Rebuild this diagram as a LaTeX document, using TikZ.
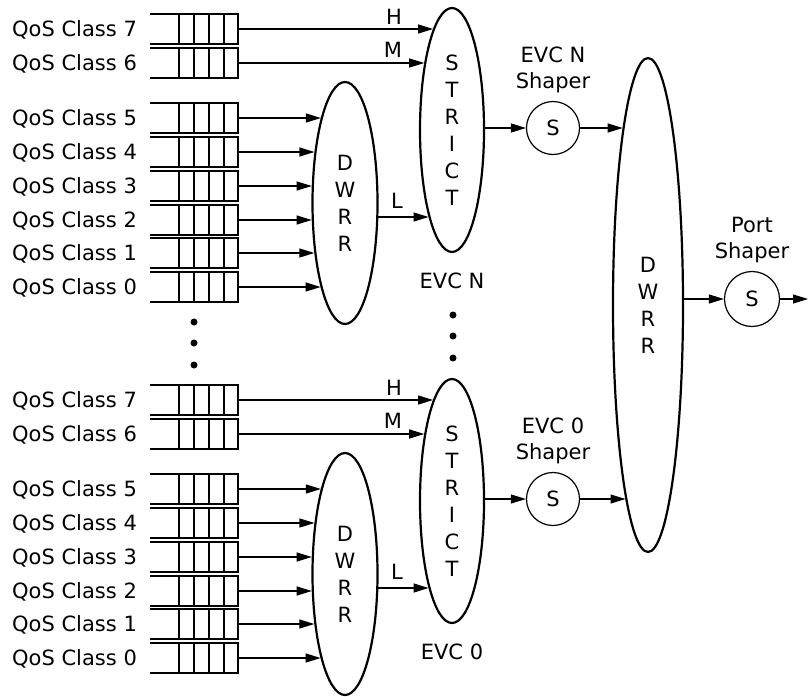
\documentclass[tikz,border=0pt]{standalone}
\usepackage{fontspec}
\setmainfont{DejaVu Sans}
\usetikzlibrary{arrows.meta,shapes.geometric,calc}

\tikzset{
  arr/.style={line width=1.1pt, -{Triangle[length=15pt,width=9pt]}},
  qline/.style={line width=1.1pt},
  ell/.style={ellipse, draw, line width=2.2pt, inner sep=0pt, align=center, font=\fontsize{21}{27}\selectfont},
  txt/.style={font=\fontsize{21}{26}\selectfont, inner sep=0pt},
  shaper/.style={circle, draw, line width=1.2pt, minimum size=53pt, inner sep=0pt, font=\fontsize{21}{26}\selectfont},
  queue/.style={rectangle, minimum width=88pt, minimum height=30pt, inner sep=0pt, outer sep=0pt},
  dot/.style={circle, fill, minimum size=7pt, inner sep=0pt},
}

\newcommand\qrow[3]{%
  \node[queue] (#1) at (194,#2) {};
  \draw[qline] (#1.north west) -- (#1.north east) -- (#1.south east) -- (#1.south west);
  \foreach \d in {14,29,44,59}{\draw[qline] ([xshift=-\d pt]#1.north east) -- ([xshift=-\d pt]#1.south east);}
  \node[txt, anchor=base west] (#1l) at (12,#2+7.5) {QoS Class #3};
}
\newcommand\toell[2]{%
  \draw[arr] let \p0=(#2.center), \p1=(#2.east), \p3=(#2.north), \p2=(#1),
    \n1={(\y2-\y0)/(\y3-\y0)} in (\p2) -- ({\x0-(\x1-\x0)*sqrt(1-\n1*\n1)},\y2);}
\newcommand\elltoell[3]{%
  \draw[arr] let \p0=(#1.center), \p1=(#1.east), \p3=(#1.north),
    \p4=(#2.center), \p5=(#2.east), \p6=(#2.north), \p2=(#3),
    \n1={(\y2-\y0)/(\y3-\y0)}, \n2={(\y2-\y4)/(\y6-\y4)} in
    ({\x0+(\x1-\x0)*sqrt(1-\n1*\n1)},\y2) -- ({\x4-(\x5-\x4)*sqrt(1-\n2*\n2)},\y2);}

\begin{document}
\begin{tikzpicture}[x=1pt,y=-1pt]
\useasboundingbox (0,0) rectangle (808,696);

% queues
\foreach \c/\y in {7/29,6/63,5/118,4/152,3/186,2/220,1/253,0/287}{\qrow{qN\c}{\y}{\c}}
\foreach \c/\y in {7/400,6/434,5/489,4/523,3/557,2/591,1/624,0/658}{\qrow{qZ\c}{\y}{\c}}

% schedulers
\node[ell, minimum width=65pt, minimum height=242pt] (dwN) at (345,203) {D\\W\\R\\R};
\node[ell, minimum width=64pt, minimum height=244pt] (stN) at (452,130) {S\\T\\R\\I\\C\\T};
\node[ell, minimum width=65pt, minimum height=242pt] (dw0) at (345,574) {D\\W\\R\\R};
\node[ell, minimum width=64pt, minimum height=244pt] (st0) at (452,501) {S\\T\\R\\I\\C\\T};
\node[ell, minimum width=70pt, minimum height=494pt] (big) at (648,305) {D\\W\\R\\R};

% shapers
\node[shaper] (shN) at (553,128) {S};
\node[shaper] (sh0) at (553,499) {S};
\node[shaper, minimum size=55pt] (port) at (752,299) {S};

% labels
\node[txt, align=center, anchor=north] (shNl) at (553,47) {EVC N\\Shaper};
\node[txt, align=center, anchor=north] (sh0l) at (553,418) {EVC 0\\Shaper};
\node[txt, align=center, anchor=north] (portl) at (752,217) {Port\\Shaper};
\node[txt, anchor=base] (evcN) at (452,288) {EVC N};
\node[txt, anchor=base] (evc0) at (452,659) {EVC 0};
\node[txt, anchor=base] (hN) at (394,24) {H};
\node[txt, anchor=base] (mN) at (393,57) {M};
\node[txt, anchor=base] (lN) at (397,208) {L};
\node[txt, anchor=base] (h0) at (394,395) {H};
\node[txt, anchor=base] (m0) at (393,428) {M};
\node[txt, anchor=base] (l0) at (397,579) {L};

% dots
\node[dot] (da1) at (194,322) {};
\node[dot] (da2) at (194,343) {};
\node[dot] (da3) at (194,365) {};
\node[dot] (db1) at (453,315) {};
\node[dot] (db2) at (453,336) {};
\node[dot] (db3) at (453,358) {};

% arrows EVC N
\toell{qN7.east}{stN}
\toell{qN6.east}{stN}
\foreach \c in {5,4,3,2,1,0}{\toell{qN\c.east}{dwN}}
\coordinate (yLN) at (0,217);
\elltoell{dwN}{stN}{yLN}
\draw[arr] (shN.west -| stN.east) -- (shN.west);
\toell{shN.east}{big}

% arrows EVC 0
\toell{qZ7.east}{st0}
\toell{qZ6.east}{st0}
\foreach \c in {5,4,3,2,1,0}{\toell{qZ\c.east}{dw0}}
\coordinate (yL0) at (0,588);
\elltoell{dw0}{st0}{yL0}
\draw[arr] (sh0.west -| st0.east) -- (sh0.west);
\toell{sh0.east}{big}

% port
\draw[arr] (port.west -| big.east) -- (port.west);
\coordinate (out) at (808,299);
\draw[arr] (port.east) -- (out);
\end{tikzpicture}
\end{document}
